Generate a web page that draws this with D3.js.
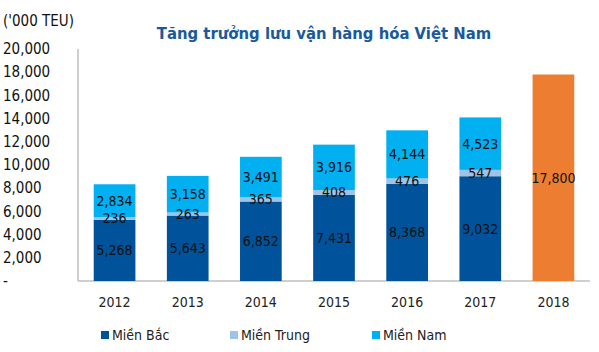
<!DOCTYPE html>
<html><head><meta charset="utf-8">
<script src="https://cdn.jsdelivr.net/npm/d3@7"></script>
<style>body{margin:0;background:#fff}svg{display:block}text{font-family:"DejaVu Sans Condensed","DejaVu Sans",sans-serif}</style>
</head><body><svg id="c" width="599" height="352"></svg>
<script>
const years = ["2012","2013","2014","2015","2016","2017","2018"];
const mienBac = [5268,5643,6852,7431,8368,9032,null];
const mienTrung = [236,263,365,408,476,547,null];
const mienNam = [2834,3158,3491,3916,4144,4523,null];
const forecast = [null,null,null,null,null,null,17800];
const seriesNames = ["Miền Bắc","Miền Trung","Miền Nam"];
const yTicks = [0,2000,4000,6000,8000,10000,12000,14000,16000,18000,20000];

const colors = ["#00539b","#9dc3e6","#00b0f0"];
const svg = d3.select("#c");
const x = d3.scaleBand().domain(years).range([78,590]).paddingInner(0.43).paddingOuter(0.215);
const y = d3.scaleLinear().domain([0,20000]).range([281,49]);

svg.append("line").attr("x1",78).attr("x2",78).attr("y1",y(20000)).attr("y2",y(0)).attr("stroke","#bfbfbf").attr("stroke-width",1.5);
svg.append("line").attr("x1",78).attr("x2",590).attr("y1",y(0)).attr("y2",y(0)).attr("stroke","#bfbfbf").attr("stroke-width",1.5);

const fmt = d3.format(",");
svg.append("g").selectAll("text").data(yTicks).join("text")
  .attr("x",3).attr("y",d=>y(d)).attr("dy","0.35em").attr("font-size",15).attr("fill","#111")
  .text(d=>d===0?"-":fmt(d));

svg.append("text").attr("x",3).attr("y",21).attr("dy","0.35em").attr("font-size",15).attr("fill","#111").text("('000 TEU)");
svg.append("text").attr("x",324).attr("y",33).attr("dy","0.35em").attr("text-anchor","middle").attr("font-size",16.5).attr("font-weight","bold").attr("fill","#1a5a9c").text("Tăng trưởng lưu vận hàng hóa Việt Nam");

svg.append("g").selectAll("text").data(years).join("text")
  .attr("x",d=>x(d)+x.bandwidth()/2).attr("y",302).attr("dy","0.35em").attr("text-anchor","middle").attr("font-size",14).attr("fill","#222").text(d=>d);

const rows = years.map((yr,i)=>({year:yr,"Miền Bắc":mienBac[i]||0,"Miền Trung":mienTrung[i]||0,"Miền Nam":mienNam[i]||0}));
const stack = d3.stack().keys(seriesNames)(rows);
stack.forEach((s,si)=>{
  svg.append("g").selectAll("rect").data(s.filter(d=>d[1]>d[0])).join("rect")
    .attr("x",d=>x(d.data.year)).attr("width",x.bandwidth())
    .attr("y",d=>y(d[1])).attr("height",d=>y(d[0])-y(d[1])).attr("fill",colors[si]);
});
svg.append("g").selectAll("rect").data(years.map((yr,i)=>({year:yr,v:forecast[i]})).filter(d=>d.v)).join("rect")
  .attr("x",d=>x(d.year)).attr("width",x.bandwidth()).attr("y",d=>y(d.v)).attr("height",d=>y(0)-y(d.v)).attr("fill","#ed7d31");
stack.forEach((s,si)=>{
  svg.append("g").selectAll("text").data(s.filter(d=>d[1]>d[0])).join("text")
    .attr("x",d=>x(d.data.year)+x.bandwidth()/2).attr("y",d=>y((d[0]+d[1])/2)).attr("dy","0.35em")
    .attr("text-anchor","middle").attr("font-size",14).attr("fill","#111").text(d=>fmt(d[1]-d[0]));
});
svg.append("g").selectAll("text").data(years.map((yr,i)=>({year:yr,v:forecast[i]})).filter(d=>d.v)).join("text")
  .attr("x",d=>x(d.year)+x.bandwidth()/2).attr("y",d=>y(d.v/2)).attr("dy","0.35em")
  .attr("text-anchor","middle").attr("font-size",14).attr("fill","#111").text(d=>fmt(d.v));

const legX = [101,230,372];
const lg = svg.append("g").selectAll("g").data(seriesNames).join("g").attr("transform",(d,i)=>`translate(${legX[i]},335)`);
lg.append("rect").attr("x",0).attr("y",-4).attr("width",8).attr("height",8).attr("fill",(d,i)=>colors[i]);
lg.append("text").attr("x",11).attr("y",0).attr("dy","0.35em").attr("font-size",14).attr("fill","#222").text(d=>d);
</script></body></html>
